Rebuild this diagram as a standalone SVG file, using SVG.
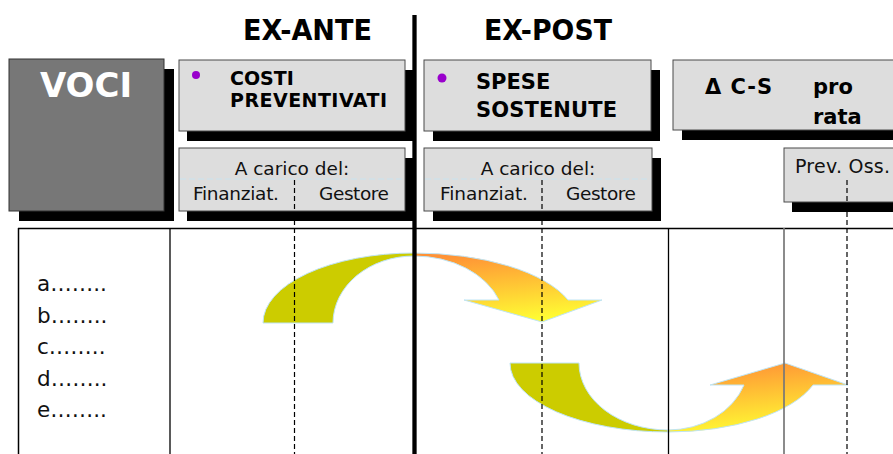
<svg xmlns="http://www.w3.org/2000/svg" width="893" height="454" viewBox="0 0 893 454">
<style>
.box{fill:#dddddd;stroke:#4a4a4a;stroke-width:1}
.sh{fill:#000}
.b{font-family:"DejaVu Sans",Verdana,sans-serif;font-weight:bold;fill:#000}
.r{font-family:"DejaVu Sans",Verdana,sans-serif;fill:#111}
.dash{stroke:#000;stroke-width:1.2;stroke-dasharray:5 3;fill:none}
.lb{stroke:#c9e3f0;stroke-width:1.2;stroke-dasharray:6 3}
.grn{fill:#cccc00;stroke:#bfe4f4;stroke-width:1}
.org{fill:url(#og);stroke:#bfe4f4;stroke-width:1}
.tl{stroke:#000;fill:none}
</style>
<defs>
<linearGradient id="og" x1="0.35" y1="0" x2="0.6" y2="1">
<stop offset="0" stop-color="#ff9236"/>
<stop offset="1" stop-color="#ffff33"/>
</linearGradient>
</defs>
<rect width="893" height="454" fill="#fff"/>

<g id="headers">
<text class="b" x="243" y="40" font-size="29" textLength="129" lengthAdjust="spacingAndGlyphs">EX-ANTE</text>
<text class="b" x="484" y="40" font-size="29" textLength="128" lengthAdjust="spacingAndGlyphs">EX-POST</text>
</g>

<g id="voci">
<rect class="sh" x="19" y="69" width="155" height="152"/>
<rect x="9" y="59" width="155" height="152" fill="#777777" stroke="#333" stroke-width="1"/>
<text x="86" y="97" font-size="34" text-anchor="middle" font-family="DejaVu Sans,Verdana,sans-serif" font-weight="bold" fill="#fff">VOCI</text>
</g>

<g id="costi">
<rect class="sh" x="187" y="70" width="226" height="71"/>
<rect class="box" x="179" y="60" width="226" height="71"/>
<circle cx="196" cy="75" r="4" fill="#9900cc"/>
<text class="b" x="230" y="85" font-size="19">COSTI</text>
<text class="b" x="230" y="107" font-size="19" textLength="157">PREVENTIVATI</text>
</g>

<g id="carico-ante">
<rect class="sh" x="187" y="158" width="226" height="63"/>
<rect class="box" x="179" y="148" width="226" height="63"/>
<line class="lb" x1="180" y1="179" x2="404" y2="179"/>
<text class="r" x="292" y="175" font-size="18.5" text-anchor="middle">A carico del:</text>
<text class="r" x="193" y="200" font-size="18.5" textLength="86">Finanziat.</text>
<text class="r" x="319" y="200" font-size="18.5" textLength="70">Gestore</text>
</g>

<g id="spese">
<rect class="sh" x="433" y="70" width="227" height="71"/>
<rect class="box" x="424" y="60" width="227" height="71"/>
<circle cx="442" cy="78" r="4.5" fill="#9900cc"/>
<text class="b" x="476" y="89" font-size="21">SPESE</text>
<text class="b" x="476" y="117" font-size="21" textLength="141">SOSTENUTE</text>
</g>

<g id="carico-post">
<rect class="sh" x="433" y="158" width="228" height="63"/>
<rect class="box" x="424" y="148" width="228" height="63"/>
<line class="lb" x1="425" y1="179" x2="651" y2="179"/>
<text class="r" x="538" y="175" font-size="18.5" text-anchor="middle">A carico del:</text>
<text class="r" x="440" y="200" font-size="18.5" textLength="88">Finanziat.</text>
<text class="r" x="566" y="200" font-size="18.5" textLength="70">Gestore</text>
</g>

<g id="delta">
<rect class="sh" x="682" y="70" width="230" height="70"/>
<rect class="box" x="673" y="60" width="240" height="70"/>
<text class="b" x="705" y="94" font-size="21" textLength="67">Δ C-S</text>
<text class="b" x="813" y="94" font-size="21">pro</text>
<text class="b" x="813" y="124" font-size="21">rata</text>
</g>

<g id="prevoss">
<rect class="sh" x="792" y="158" width="120" height="54"/>
<rect class="box" x="784" y="148" width="130" height="54"/>
<text class="r" x="795" y="173" font-size="19" textLength="95">Prev. Oss.</text>
</g>

<g id="table">
<text class="r" x="37" y="291" font-size="21.5">a……..</text>
<text class="r" x="37" y="322.5" font-size="21.5">b……..</text>
<text class="r" x="37" y="354" font-size="21.5">c……..</text>
<text class="r" x="37" y="385.5" font-size="21.5">d……..</text>
<text class="r" x="37" y="417" font-size="21.5">e……..</text>
</g>

<g id="connectors">
<path class="grn" d="M263 323 L333 323 A81 67 0 0 1 414 256 L414 253 A151 70 0 0 0 263 323 Z"/>
<path class="org" d="M414 253 A163 70 0 0 1 568 300 L602 300 L542 322 L464 300 L499 300 A90.5 67 0 0 0 414 256 Z"/>
<path class="grn" d="M510 363 L579 363 A89 67 0 0 0 668 430 L668 432 A158 69 0 0 1 510 363 Z"/>
<path class="org" d="M668 432 A153 69 0 0 0 813 385 L848 385 L785 363 L710 385 L744 385 A80.5 67 0 0 1 668 430 Z"/>
</g>

<g id="grid">
<line class="tl" x1="18" y1="228.5" x2="893" y2="228.5" stroke-width="1.5"/>
<line class="tl" x1="18.5" y1="228" x2="18.5" y2="454" stroke-width="1.5"/>
<line class="tl" x1="170" y1="228" x2="170" y2="454" stroke-width="1.3"/>
<line class="tl" x1="668.5" y1="228" x2="668.5" y2="454" stroke-width="1.3"/>
<line x1="784" y1="228" x2="784" y2="454" stroke="#777" stroke-width="2" stroke-opacity="0.85"/>
<line class="dash" x1="294.5" y1="180" x2="294.5" y2="454"/>
<line class="dash" x1="542" y1="180" x2="542" y2="454"/>
<line class="dash" x1="847" y1="180" x2="847" y2="454"/>
<line x1="414.5" y1="15" x2="414.5" y2="454" stroke="#000" stroke-width="4.3"/>
</g>
</svg>
